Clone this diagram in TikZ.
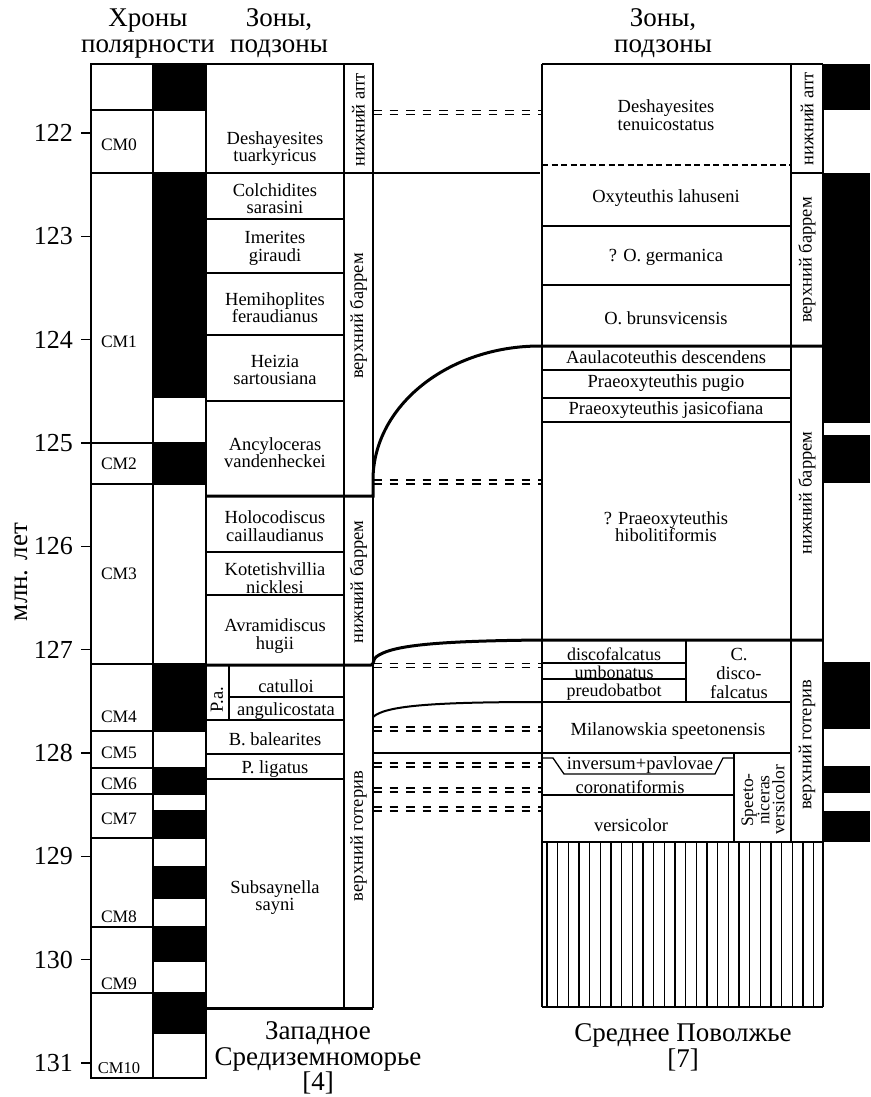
\documentclass[tikz,border=0pt]{standalone}
\usepackage{fontspec}
\setmainfont{Liberation Serif}
\begin{document}
\begin{tikzpicture}[x=1pt,y=-1pt]
\tikzset{
  ln/.style={line width=1.3pt},
  thk/.style={line width=3pt},
  dd/.style={line width=1.1pt, dash pattern=on 8.5pt off 8pt},
  sd/.style={line width=1.1pt, dash pattern=on 6pt off 3.5pt},
  blk/.style={fill=black, draw=black, line width=1.3pt},
  ztxt/.style={font=\fontsize{18.5}{17.5}\selectfont, align=center, inner sep=0pt},
  cmtxt/.style={font=\fontsize{17.5}{17.5}\selectfont, inner sep=0pt},
  stg/.style={font=\fontsize{18.5}{18.5}\selectfont, rotate=90, inner sep=0pt},
  hdr/.style={font=\fontsize{27}{27}\selectfont, inner sep=0pt, anchor=base},
  ttl/.style={font=\fontsize{27}{27}\selectfont, inner sep=0pt, anchor=base, text height=0.68em, text depth=0.12em},
  num/.style={font=\fontsize{26}{26}\selectfont, anchor=east, inner sep=0pt}
}
\useasboundingbox (0,0) rectangle (870,1097);

% ---------- headers
\node[hdr] (h1) at (148,27) {Хроны};
\node[hdr] (h2) at (148,53) {полярности};
\node[hdr] (h3) at (279,27) {Зоны,};
\node[hdr] (h4) at (279,53) {подзоны};
\node[hdr] (h5) at (663,27) {Зоны,};
\node[hdr] (h6) at (663,53) {подзоны};

% ---------- axis
\foreach \t/\yy in {122/133,123/236.3,124/339.7,125/443,126/546.3,127/649.7,128/753,129/856.3,130/959.7,131/1063}{
  \draw[ln] (81,\yy) -- (91,\yy);
  \node[num] (n\t) at (73,\yy) {\t};
}
\node[font=\fontsize{27}{27}\selectfont, rotate=90, inner sep=0pt] (ax) at (21,572) {млн. лет};

% ---------- left polarity blocks
\foreach \a/\b in {64/110,173/397,443/484,664/731,768/794,811/838,867/898,927/961,993/1033}{
  \draw[blk] (153,\a) rectangle (206,\b);
}
% chron frame
\draw[ln] (91,64) rectangle (206,1078);
\draw[ln] (153,64) -- (153,1078);
\foreach \yy in {110,443,484,664,731,768,794,838,927,993}{
  \draw[ln] (91,\yy) -- (206,\yy);
}
\draw[ln] (91,173) -- (540,173);

% chron labels
\foreach \c/\yy in {0/145,1/342,2/464,3/574,4/717,5/753,6/784,7/819,8/917,9/984}{
  \node[cmtxt] (cm\c) at (119,\yy) {CM\c};
}
\node[font=\fontsize{16.5}{16.5}\selectfont, inner sep=0pt] (cm10) at (119,1068) {CM10};

% ---------- left zones frame
\draw[ln] (206,64) -- (373,64) -- (373,1008);
\draw[ln] (344,64) -- (344,1008);
\foreach \yy in {219,273,335,401,552,595,720,754,779}{
  \draw[ln] (206,\yy) -- (344,\yy);
}
\draw[ln] (229,697) -- (344,697);
\draw[ln] (229,665) -- (229,720);
\draw[thk] (206,1008) -- (373,1008);

% left zone names
\node[ztxt] (z1) at (275,148.5) {Deshayesites\\tuarkyricus};
\node[ztxt] (z2) at (275,198.5) {Colchidites\\sarasini};
\node[ztxt] (z3) at (275,248.5) {Imerites\\giraudi};
\node[ztxt] (z4) at (275,307.5) {Hemihoplites\\feraudianus};
\node[ztxt] (z5) at (275,370) {Heizia\\sartousiana};
\node[ztxt] (z6) at (275,452.5) {Ancyloceras\\vandenheckei};
\node[ztxt] (z7) at (275,526) {Holocodiscus\\caillaudianus};
\node[ztxt] (z8) at (275,578) {Kotetishvillia\\nicklesi};
\node[ztxt] (z9) at (275,636) {Avramidiscus\\hugii};
\node[ztxt] (z10) at (286,686) {catulloi};
\node[ztxt] (z11) at (286,711) {angulicostata};
\node[ztxt] (z12) at (275,739) {B. balearites};
\node[ztxt] (z13) at (275,769) {P. ligatus};
\node[ztxt] (z14) at (275,897.5) {Subsaynella\\sayni};
\node[stg] (pa) at (217,700) {P.a.};

% left stages
\node[stg] (s1) at (358.5,120) {нижний апт};
\node[stg] (s2) at (358.5,316) {верхний баррем};
\node[stg] (s3) at (358.5,582) {нижний баррем};
\node[stg] (s4) at (358.5,836) {верхний готерив};

% ---------- right column frame
\draw[ln] (542,64) -- (823,64);
\draw[ln] (542,64) -- (542,1007);
\draw[ln] (791,64) -- (791,842);
\draw[ln] (823,64) -- (823,1007);
\draw[ln] (542,842) -- (823,842);
\draw[ln] (542,1007) -- (823,1007);
\draw[ln] (791,173) -- (823,173);
\draw[sd] (542,165) -- (791,165);
\foreach \yy in {226,285,370,398,422,702}{
  \draw[ln] (542,\yy) -- (791,\yy);
}
\draw[ln] (542,663) -- (686,663);
\draw[ln] (542,679) -- (686,679);
\draw[ln] (686,640) -- (686,702);
\draw[ln] (373,753) -- (791,753);
\draw[ln] (542,795) -- (734,795);
\draw[ln] (734,753) -- (734,842);
\draw[ln] (542,758) -- (553,758) -- (564,774) -- (715,774) -- (723,758) -- (734,758);

% hatch
\foreach \i in {0,...,25}{
  \draw[line width=1.4pt] ({547+\i*10.67},842) -- ({547+\i*10.67},1007);
}

% right polarity
\foreach \a/\b in {64/110,173/423,435/483,662/729,766/793,811/842}{
  \fill[black] (823,\a) rectangle (870,\b);
}

% right zone names
\node[ztxt] (r1) at (666,115) {Deshayesites\\tenuicostatus};
\node[ztxt] (r2) at (666,198) {Oxyteuthis lahuseni};
\node[ztxt] (r3) at (666,257) {? O. germanica};
\node[ztxt] (r4) at (666,318) {O. brunsvicensis};
\node[ztxt] (r5) at (666,357) {Aaulacoteuthis descendens};
\node[ztxt] (r6) at (666,383) {Praeoxyteuthis pugio};
\node[ztxt] (r7) at (666,410) {Praeoxyteuthis jasicofiana};
\node[ztxt] (r8) at (666,526.5) {? Praeoxyteuthis\\hibolitiformis};
\node[ztxt, font=\fontsize{18}{18}\selectfont] (r9) at (614,654) {discofalcatus};
\node[ztxt, font=\fontsize{18}{18}\selectfont] (r10) at (614,672) {umbonatus};
\node[ztxt, font=\fontsize{18}{18}\selectfont] (r11) at (614,692) {preudobatbot};
\node[ztxt, font=\fontsize{18.5}{19}\selectfont] (r12) at (739,673) {C.\\disco-\\falcatus};
\node[ztxt] (r13) at (668,731) {Milanowskia speetonensis};
\node[ztxt] (r14) at (640,765) {inversum+pavlovae};
\node[ztxt] (r15) at (630,787) {coronatiformis};
\node[ztxt] (r16) at (631,825) {versicolor};
\node[ztxt, rotate=90, font=\fontsize{17.5}{15}\selectfont] (r17) at (763,800) {Speeto-\\niceras\\versicolor};

% right stages
\node[stg] (rs1) at (807,119) {нижний апт};
\node[stg] (rs2) at (807,260) {верхний баррем};
\node[stg] (rs3) at (807,493) {нижний баррем};
\node[stg] (rs4) at (807,745) {верхний готерив};

% ---------- correlation lines
\foreach \yy in {110.5,480,663.5,727,763,788,807}{
  \draw[dd] (373,\yy) -- (542,\yy);
  \draw[dd] (373,\yy+4) -- (542,\yy+4);
}
\draw[thk] (206,496) -- (373,496) -- (373,480) .. controls (373,406) and (448,346) .. (540,346) -- (823,346);
\draw[thk] (206,665) -- (371,665) .. controls (374,665) and (373,659) .. (376,657) .. controls (390,646) and (430,641) .. (542,640) -- (823,640);
\draw[line width=2pt] (373,717) .. controls (385,706) and (430,702) .. (542,702);

% ---------- titles (one node per line, placed on baselines)
\node[ttl] (t1a) at (318,1039) {Западное};
\node[ttl] (t1b) at (318,1065) {Средиземноморье};
\node[ttl] (t1c) at (318,1090) {[4]};
\node[ttl] (t2a) at (683,1041) {Среднее Поволжье};
\node[ttl] (t2b) at (683,1067) {[7]};
\end{tikzpicture}
\end{document}
